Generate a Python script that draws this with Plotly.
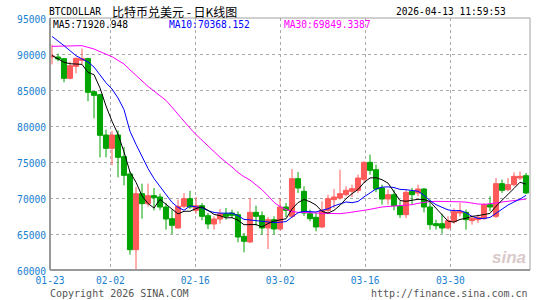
import plotly.graph_objects as go

# ---- data ----
opens = [89600, 89583, 89352, 86620, 88287, 89120, 89352, 84768, 84351, 78749,
         76897, 78749, 75740, 73332, 62822, 70602, 69213, 70324, 70139, 68750,
         67130, 65833, 68842, 69907, 68287, 68935, 67546, 66389, 67083, 67824,
         67917, 67685, 64676, 63888, 68009, 67546, 65833, 66990, 65694, 68750,
         67454, 72685, 70926, 67824, 67315, 65972, 68287, 69769, 70000, 70463,
         70926, 71065, 72593, 74954, 73935, 71389, 69861, 70463, 68843, 67685,
         70926, 70694, 71250, 68750, 66435, 66435, 65833, 66713, 67917, 68009,
         66852, 66990, 67130, 69074, 67454, 71991, 71157, 71852, 72778, 73102]
highs = [91300, 90046, 89400, 88935, 89500, 90740, 89490, 84800, 84490, 79490,
         79300, 79397, 77082, 73702, 71526, 72000, 72000, 71390, 70600, 69305,
         68380, 69770, 70694, 71000, 70139, 69305, 67916, 67454, 68472, 68611,
         68380, 68148, 65139, 70000, 68935, 68148, 67361, 67454, 70000, 69305,
         74028, 73611, 71620, 68380, 67916, 69537, 70463, 71250, 73935, 71620,
         71852, 73240, 75100, 76019, 74630, 71852, 71157, 71157, 69537, 71157,
         71389, 71852, 71389, 69768, 66990, 67824, 67454, 68565, 69305, 68380,
         67546, 67685, 69305, 70231, 72778, 72546, 72778, 73565, 73704, 73472]
lows = [88560, 88980, 86065, 86481, 87315, 88565, 83425, 81064, 75647, 75647,
        74536, 72870, 71758, 62127, 59800, 67130, 68800, 68287, 68300, 65600,
        65000, 65740, 68600, 68500, 67824, 66900, 65694, 65600, 66435, 66990,
        67200, 63842, 62453, 63750, 66157, 64907, 62917, 64907, 65500, 67361,
        67200, 70694, 67500, 66759, 65370, 65833, 67900, 68611, 69769, 70231,
        70139, 70700, 72100, 73241, 70800, 69074, 69074, 68287, 67222, 67222,
        69074, 70231, 68000, 65602, 65602, 65046, 65602, 66435, 67454, 65602,
        66296, 66528, 66990, 68148, 67222, 70694, 70926, 71600, 72500, 70550]
closes = [89700, 89306, 86620, 88380, 89400, 89352, 84675, 84259, 78703, 76897,
          78749, 75647, 73147, 62822, 70600, 69213, 70324, 70046, 68750, 67083,
          66204, 68842, 69907, 68750, 68935, 67454, 66389, 67083, 67824, 67454,
          67593, 64583, 63981, 68009, 67454, 65833, 66990, 65694, 68750, 68287,
          72685, 71389, 67916, 67130, 65972, 68287, 69907, 70139, 70602, 71065,
          71296, 72778, 74954, 73843, 71250, 69861, 70463, 68935, 67685, 70787,
          70463, 71250, 68750, 66296, 66157, 65833, 66852, 68102, 68148, 66990,
          67176, 67315, 69074, 68750, 71991, 71065, 71852, 73009, 73009, 70700]

ma5 = [89800, 89300, 88850, 88650, 88620, 88560, 87450, 87130, 85280, 82780,
       80660, 78850, 76400, 73600, 72190, 70290, 69230, 68610, 69800, 69090,
       68480, 67790, 68160, 68160, 68530, 68780, 68290, 67720, 67540, 67240,
       67270, 66910, 66290, 66320, 66320, 65970, 66450, 66800, 66940, 67110,
       68480, 69360, 69800, 69480, 69020, 68140, 67900, 68290, 68980, 69900,
       70600, 71180, 72140, 72790, 72820, 72540, 72070, 70870, 69640, 69550,
       69670, 69820, 69790, 69510, 68580, 67660, 66780, 66650, 67020, 67190,
       67450, 67550, 67740, 67860, 68860, 69640, 70550, 71330, 72190, 71921]
ma10 = [92450, 91850, 91160, 90460, 89770, 89300, 88890, 88190, 87130, 86000,
        85140, 83890, 82270, 79260, 77450, 75700, 74100, 72700, 71620, 70600,
        69390, 68700, 68300, 68900, 68810, 68630, 68240, 67990, 67900, 67880,
        67900, 67550, 67030, 66950, 66840, 66700, 66650, 66580, 66630, 66720,
        67350, 67950, 68150, 68100, 68060, 68300, 68500, 68900, 69230, 69450,
        69350, 69520, 70150, 70700, 71250, 71500, 71550, 71450, 71200, 71150,
        71080, 70940, 70370, 69650, 69070, 68660, 68350, 68240, 68270, 67950,
        67450, 67170, 67160, 67300, 67850, 68500, 69020, 69450, 69850, 70368]
ma30 = [91065, 91065, 91065, 91080, 91110, 91157, 90926, 90694, 90324, 90000,
        89630, 89120, 88611, 87800, 87000, 86200, 85500, 84850, 84200, 83550,
        82600, 81600, 80600, 79700, 78800, 78050, 77300, 76450, 75650, 75000,
        74300, 73550, 72950, 72500, 71850, 71150, 70300, 69400, 68800, 68400,
        68150, 68009, 68009, 68009, 67917, 67870, 67824, 67800, 67824, 67917,
        68009, 68148, 68287, 68430, 68611, 68750, 68820, 68889, 68935, 68981,
        69074, 69259, 69398, 69500, 69537, 69537, 69537, 69500, 69470, 69420,
        69259, 69167, 69120, 69167, 69306, 69444, 69537, 69630, 69720, 69849]

tick_labels = ["01-23", "02-02", "02-16", "03-02", "03-16", "03-30"]
tick_pos = [-0.33, 9.72, 23.88, 38.05, 52.2, 66.4]
y_ticks = [60000, 65000, 70000, 75000, 80000, 85000, 90000, 95000]

ma_labels = ["MA5:71920.948", "MA10:70368.152", "MA30:69849.3387"]
title_code = "BTCDOLLAR"
title_cn = "比特币兑美元 - 日K线图"
timestamp = "2026-04-13 11:59:53"
copyright_txt = "Copyright 2026 SINA.COM"
url_txt = "http://finance.sina.com.cn"

# ---- figure ----
RED = "#ff5a5a"
GREEN = "#00a400"
MONO = "DejaVu Sans Mono"
xs = list(range(len(closes)))

fig = go.Figure()
fig.add_trace(go.Candlestick(
    x=xs, open=opens, high=highs, low=lows, close=closes,
    increasing=dict(line=dict(color=RED, width=1), fillcolor=RED),
    decreasing=dict(line=dict(color=GREEN, width=1), fillcolor=GREEN),
    whiskerwidth=0, showlegend=False, hoverinfo="skip"))
for vals, col in [(ma30, "#ff00ff"), (ma10, "#0000ff"), (ma5, "#000000")]:
    fig.add_trace(go.Scatter(x=xs, y=vals, mode="lines",
                             line=dict(color=col, width=1),
                             showlegend=False, hoverinfo="skip"))

L, R, T, B = 50, 15, 18, 30
W, H = 545, 300
pw, ph = W - L - R, H - T - B


def px(x):
    return (x - L) / pw


def py(y):
    return (H - B - y) / ph


fig.update_layout(
    width=W, height=H, margin=dict(l=L, r=R, t=T, b=B),
    paper_bgcolor="white", plot_bgcolor="white",
    boxgap=0.15, boxgroupgap=0,
    font=dict(family=MONO, size=10, color="#1a7fd0"),
    xaxis=dict(range=[-0.333, 79.667], rangeslider=dict(visible=False),
               tickmode="array", tickvals=tick_pos, ticktext=tick_labels,
               showgrid=True, gridcolor="#aaaaaa", griddash="dot", gridwidth=1,
               zeroline=False, showline=False, ticks="", ticklabelstandoff=3,
               tickfont=dict(family=MONO, size=9.6, color="#1a7fd0")),
    yaxis=dict(range=[60000, 95000], tickmode="array", tickvals=y_ticks,
               ticktext=[str(v) for v in y_ticks],
               showgrid=True, gridcolor="#aaaaaa", griddash="dot", gridwidth=1,
               zeroline=False, showline=False, ticks="", ticklabelstandoff=3,
               ticklabelshift=2,
               tickfont=dict(family=MONO, size=9.6, color="#1a7fd0")),
    shapes=[
        dict(type="rect", xref="paper", yref="paper", x0=0, x1=1, y0=0, y1=1,
             line=dict(color="#a0a0a0", width=1)),
        dict(type="line", xref="paper", yref="paper", x0=0, x1=0, y0=0, y1=1,
             line=dict(color="#999999", width=2)),
        dict(type="line", xref="paper", yref="paper", x0=0, x1=1, y0=0, y1=0,
             line=dict(color="#999999", width=2)),
    ],
)

ann = [
    (title_code, 47, 11, "left", "#000000", MONO, 9.6),
    (title_cn, 110, 11, "left", "#000000", "Noto Sans CJK SC", 12),
    (timestamp, 508, 11, "right", "#000000", MONO, 9.6),
    (ma_labels[0], 51, 24, "left", "#000000", MONO, 9.6),
    (ma_labels[1], 167, 24, "left", "#0000ff", MONO, 9.6),
    (ma_labels[2], 282, 24, "left", "#ff00ff", MONO, 9.6),
    (copyright_txt, 48, 293, "left", "#555555", MONO, 10),
    (url_txt, 530, 293, "right", "#555555", MONO, 10),
]
for txt, x, y, anc, col, fam, sz in ann:
    fig.add_annotation(text=txt, x=px(x), y=py(y), xref="paper", yref="paper",
                       xanchor=anc, yanchor="middle", showarrow=False,
                       font=dict(family=fam, size=sz, color=col))
fig.add_annotation(text="<b><i>sina</i></b>", x=px(528), y=py(257),
                   xref="paper", yref="paper", xanchor="right", yanchor="middle",
                   showarrow=False,
                   font=dict(family="Liberation Sans", size=17, color="#d9c9c9"))

fig.write_html("out.html", config={"displayModeBar": False})
